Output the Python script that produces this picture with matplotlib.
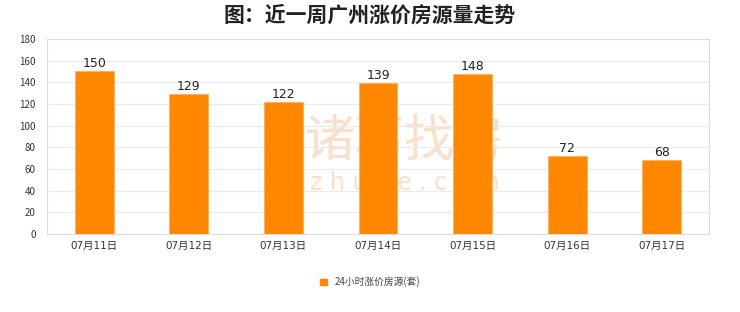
import matplotlib.pyplot as plt
from matplotlib.patches import Patch

plt.rcParams['font.family'] = ['Noto Sans CJK SC', 'DejaVu Sans']

dates = ['07月11日', '07月12日', '07月13日', '07月14日', '07月15日', '07月16日', '07月17日']
counts = [150, 129, 122, 139, 148, 72, 68]
series_name = '24小时涨价房源(套)'
title = '图：近一周广州涨价房源量走势'

BAR = '#ff8800'
GRID = '#ebebeb'
TXT = '#333333'
WM = '#fae0cb'

fig = plt.figure(figsize=(7.4, 3.12), dpi=100, facecolor='white')
ax = fig.add_axes([47 / 740, 1 - 234 / 312, 662 / 740, 195 / 312])

# faint watermark behind the bars
fig.text(405 / 740, 1 - 142 / 312, '诸葛找房', ha='center', va='center', fontsize=36,
         color=WM, zorder=0)
fig.text(405 / 740, 1 - 183 / 312, 'z h u g e . c o m', ha='center', va='center',
         fontsize=17, color=WM, zorder=0, family='DejaVu Sans')
ax.set_zorder(1)
ax.patch.set_alpha(0)

x = range(len(dates))
ax.bar(x, counts, width=0.41, color=BAR, edgecolor='#ffb060', linewidth=0.6, zorder=3)
for xi, v in zip(x, counts):
    ax.text(xi, v + 1, str(v), ha='center', va='bottom', fontsize=9, color='#222222',
            zorder=4, family=['DejaVu Sans'])

ax.set_xlim(-0.5, len(dates) - 0.5)
ax.set_ylim(0, 180)
ax.set_yticks(range(0, 181, 20))
ax.set_xticks(list(x))
ax.set_xticklabels(dates, family=['DejaVu Sans', 'Noto Sans CJK SC'])
ax.tick_params(axis='both', length=0, colors=TXT)
ax.tick_params(axis='y', pad=8, labelsize=7)
ax.tick_params(axis='x', pad=5, labelsize=7.5)
ax.grid(axis='y', color=GRID, linewidth=0.8, zorder=0)
for s in ax.spines.values():
    s.set_color('#dddddd')
    s.set_linewidth(0.8)

fig.text(0.5, 1 - 15 / 312, title, ha='center', va='center', fontsize=15,
         fontweight='bold', color='#222222')

handles = [Patch(facecolor=BAR, edgecolor=BAR, label=series_name)]
fig.legend(handles=handles, loc='center', bbox_to_anchor=(0.5, 1 - 282 / 312),
           frameon=False, fontsize=7, handlelength=0.7, handleheight=0.7,
           handletextpad=0.8, labelcolor='#444444')

fig.savefig('out.png', dpi=100, facecolor='white')
